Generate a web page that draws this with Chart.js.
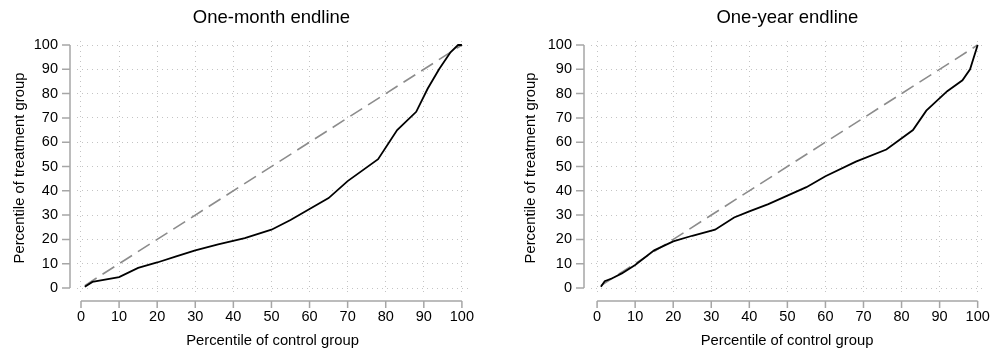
<!DOCTYPE html>
<html>
<head>
<meta charset="utf-8">
<script src="https://cdn.jsdelivr.net/npm/chart.js@4"></script>
<style>
  body { margin: 0; background: #fff; }
  .panel { position: absolute; top: 0; height: 352px; }
</style>
</head>
<body>
<div class="panel" style="left:0;width:497px"><canvas id="monthChart" width="497" height="352"></canvas></div>
<div class="panel" style="left:497px;width:498px"><canvas id="yearChart" width="498" height="352"></canvas></div>
<script>
// percentiles
const tickValues = [0, 10, 20, 30, 40, 50, 60, 70, 80, 90, 100];
const diagonalX = [1, 100];
const diagonalY = [1, 100];

const monthControl = [1, 3, 10, 15, 20, 25, 30, 36, 43, 50, 55, 60, 65, 70, 78, 83, 88, 91, 94, 97, 99, 100];
const monthTreatment = [0.5, 2.5, 4.5, 8.3, 10.5, 13, 15.5, 18, 20.5, 24, 28, 32.5, 37, 44, 53, 65, 72.5, 82, 90, 97, 100, 100];

const yearControl = [1, 2, 4, 6.5, 10, 15, 20, 25, 31, 36, 40, 45, 50, 55, 60, 68, 76, 83, 86.5, 92, 96, 98, 100];
const yearTreatment = [0.5, 2.8, 4, 6, 9.5, 15.5, 19.2, 21.5, 24, 29, 31.5, 34.5, 38, 41.5, 46, 52, 57, 65, 73, 81, 85.5, 90, 100];

const FONT = "'Liberation Sans', Arial, Helvetica, sans-serif";

function toPoints(xs, ys) {
    return xs.map((v, i) => ({x: v, y: ys[i]}));
}

// stata-like detached axes with outward ticks, title centred over the plot
const axisLines = {
    id: 'axisLines',
    afterLayout(chart) {
        const x = chart.scales.x;
        if (chart.titleBlock) {
            chart.titleBlock.left = x.getPixelForValue(0);
            chart.titleBlock.right = x.getPixelForValue(100);
        }
    },
    afterDraw(chart) {
        const {ctx, chartArea, scales} = chart;
        const x = scales.x, y = scales.y;
        const ax = chartArea.left - 7;
        const ay = chartArea.bottom + 6;
        ctx.save();
        ctx.strokeStyle = '#a6a6a6';
        ctx.lineWidth = 1.5;
        ctx.beginPath();
        ctx.moveTo(ax, y.getPixelForValue(0));
        ctx.lineTo(ax, y.getPixelForValue(100));
        tickValues.forEach(v => {
            const p = y.getPixelForValue(v);
            ctx.moveTo(ax - 8, p);
            ctx.lineTo(ax, p);
        });
        ctx.moveTo(x.getPixelForValue(0), ay);
        ctx.lineTo(x.getPixelForValue(100), ay);
        tickValues.forEach(v => {
            const p = x.getPixelForValue(v);
            ctx.moveTo(p, ay);
            ctx.lineTo(p, ay + 7);
        });
        ctx.stroke();
        ctx.restore();
    }
};

function makeChart(id, title, xs, ys, yWidth, rightPad, xMin, xMax, yTitlePad) {
    return new Chart(document.getElementById(id), {
        type: 'scatter',
        data: {
            datasets: [{
                data: toPoints(xs, ys),
                showLine: true,
                borderColor: '#000',
                borderWidth: 1.8,
                pointRadius: 0,
                order: 1
            }, {
                data: toPoints(diagonalX, diagonalY),
                showLine: true,
                borderColor: '#8c8c8c',
                borderWidth: 1.6,
                borderDash: [14, 7],
                pointRadius: 0,
                order: 2
            }]
        },
        options: {
            responsive: false,
            animation: false,
            layout: { padding: { left: 0, right: rightPad, top: 0, bottom: 0 } },
            plugins: {
                legend: { display: false },
                tooltip: { enabled: false },
                title: {
                    display: true,
                    text: title,
                    color: '#000',
                    font: { family: FONT, size: 18.5, weight: 'normal' },
                    padding: { top: 7, bottom: 11.8 }
                }
            },
            scales: {
                x: {
                    type: 'linear',
                    min: xMin,
                    max: xMax,
                    afterBuildTicks: s => { s.ticks = tickValues.map(v => ({value: v})); },
                    afterFit: s => { s.height = 57; s.paddingLeft = 0; s.paddingRight = 0; },
                    border: { display: false, dash: [1, 4] },
                    grid: { color: '#c4c4c4', drawTicks: false, lineWidth: 1 },
                    ticks: { color: '#000', padding: 13, maxRotation: 0, font: { family: FONT, size: 14.5 } },
                    title: {
                        display: true,
                        text: 'Percentile of control group',
                        color: '#000',
                        font: { family: FONT, size: 14.8 },
                        padding: { top: 0, bottom: 2 }
                    }
                },
                y: {
                    type: 'linear',
                    min: -2.88,
                    max: 101.65,
                    afterBuildTicks: s => { s.ticks = tickValues.map(v => ({value: v})); },
                    afterFit: s => { s.width = yWidth; },
                    border: { display: false, dash: [1, 4] },
                    grid: { color: '#c4c4c4', drawTicks: false, lineWidth: 1 },
                    ticks: { color: '#000', padding: 19, font: { family: FONT, size: 14.5 } },
                    title: {
                        display: true,
                        text: 'Percentile of treatment group',
                        color: '#000',
                        font: { family: FONT, size: 14.8 },
                        padding: { top: yTitlePad, bottom: 0 }
                    }
                }
            }
        },
        plugins: [axisLines]
    });
}

makeChart('monthChart', 'One-month endline', monthControl, monthTreatment, 77, 29, -1.05, 101.6, 11);
makeChart('yearChart', 'One-year endline', yearControl, yearTreatment, 94, 12, -1.6, 101.4, 25);
</script>
</body>
</html>
